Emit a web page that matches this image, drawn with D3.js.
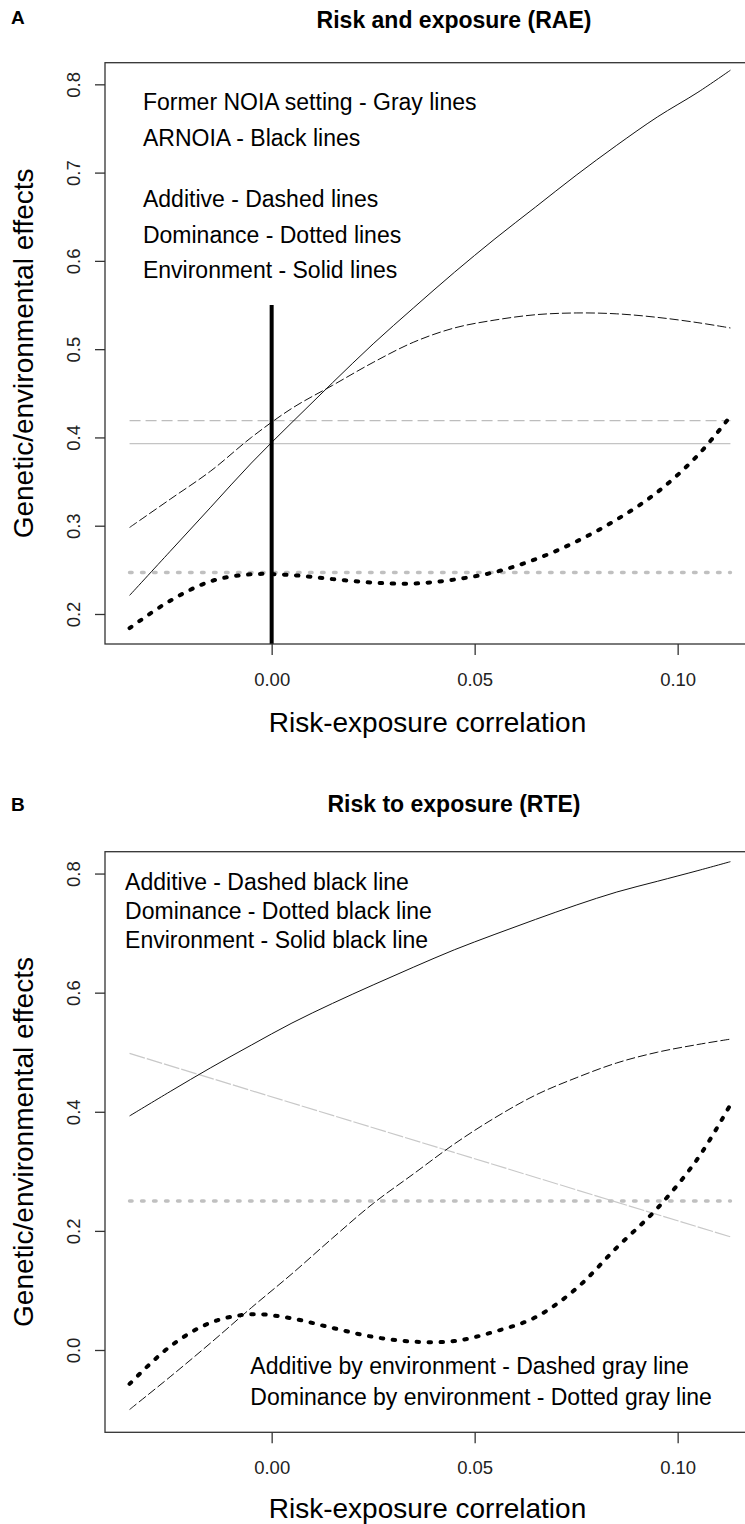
<!DOCTYPE html>
<html>
<head>
<meta charset="utf-8">
<script src="https://cdn.jsdelivr.net/npm/d3@7"></script>
<style>
  body { margin: 0; background: #fff; }
  svg { display: block; font-family: "Liberation Sans", Arial, sans-serif; }
</style>
</head>
<body>
<div id="chart"></div>
<script>
// risk-exposure correlation grid
var xGrid = [-0.035, -0.025, -0.015, -0.005, 0.005, 0.015, 0.025, 0.035, 0.045, 0.055, 0.065, 0.075, 0.085, 0.095, 0.105, 0.113];
var xEnds = [-0.035, 0.113];

// panel A : risk and exposure (RAE), ARNOIA
var raeEnvironment = [0.221, 0.271, 0.321, 0.371, 0.417, 0.462, 0.506, 0.547, 0.587, 0.625, 0.661, 0.697, 0.731, 0.763, 0.791, 0.816];
var raeAdditive    = [0.298, 0.330, 0.362, 0.400, 0.433, 0.459, 0.485, 0.508, 0.524, 0.533, 0.539, 0.541, 0.540, 0.536, 0.530, 0.524];
var raeDominance   = [0.184, 0.215, 0.237, 0.245, 0.244, 0.2395, 0.2355, 0.2345, 0.239, 0.2475, 0.262, 0.282, 0.307, 0.338, 0.380, 0.424];
// former NOIA setting (constant)
var raeNoiaAdditive    = [0.419, 0.419];
var raeNoiaEnvironment = [0.393, 0.393];
var raeNoiaDominance   = [0.247, 0.247];
var raeMarkerTop = 0.55;

// panel B : risk to exposure (RTE)
var rteEnvironment = [0.393, 0.434, 0.474, 0.512, 0.549, 0.582, 0.613, 0.643, 0.672, 0.698, 0.723, 0.747, 0.769, 0.787, 0.805, 0.820];
var rteAdditive    = [-0.100, -0.045, 0.012, 0.071, 0.128, 0.188, 0.246, 0.296, 0.346, 0.390, 0.428, 0.457, 0.482, 0.500, 0.513, 0.522];
var rteDominance   = [-0.057, 0.006, 0.046, 0.060, 0.053, 0.037, 0.022, 0.014, 0.015, 0.031, 0.055, 0.103, 0.172, 0.238, 0.322, 0.412];
var rteAddByEnv    = [0.498, 0.190];
var rteDomByEnv    = [0.25, 0.25];

var xTicks = [0, 0.05, 0.10];
var raeYTicks = [0.2, 0.3, 0.4, 0.5, 0.6, 0.7, 0.8];
var rteYTicks = [0.0, 0.2, 0.4, 0.6, 0.8];

var raeLegend = ["Former NOIA setting - Gray lines", "ARNOIA - Black lines", "Additive - Dashed lines", "Dominance - Dotted lines", "Environment - Solid lines"];
var raeLegendY = [0.78, 0.74, 0.67, 0.63, 0.59];
var rteLegendTop = ["Additive - Dashed black line", "Dominance - Dotted black line", "Environment - Solid black line"];
var rteLegendTopY = [0.786, 0.737, 0.689];
var rteLegendBottom = ["Additive by environment - Dashed gray line", "Dominance by environment - Dotted gray line"];
var rteLegendBottomY = [-0.0264, -0.0784];

var width = 745, height = 1524;
var plotLeft = 105, plotRight = 750;

var svg = d3.select("#chart").append("svg")
  .attr("width", width)
  .attr("height", height);

svg.append("rect")
  .attr("width", width)
  .attr("height", height)
  .attr("fill", "#fff");

var x = d3.scaleLinear()
  .domain([-0.04105, 0.11782])
  .range([plotLeft, plotRight]);

function zip(ys) {
  return ys.map(function(v, i) { return [xGrid[i], v]; });
}
function ends(ys) {
  return ys.map(function(v, i) { return [xEnds[i], v]; });
}

function drawPanel(opt) {
  var y = d3.scaleLinear()
    .domain(opt.yDomain)
    .range([opt.bottom, opt.top]);

  var g = svg.append("g");

  var line = d3.line()
    .x(function(d) { return x(d[0]); })
    .y(function(d) { return y(d[1]); })
    .curve(d3.curveCatmullRom);

  opt.series.forEach(function(s) {
    g.append("path")
      .datum(s.data)
      .attr("d", line)
      .attr("fill", "none")
      .attr("stroke", s.color)
      .attr("stroke-width", s.width)
      .attr("stroke-dasharray", s.dash || null)
      .attr("stroke-linecap", s.cap || "butt");
  });

  if (opt.marker) {
    g.append("line")
      .attr("x1", x(0)).attr("x2", x(0))
      .attr("y1", y(opt.yDomain[0]))
      .attr("y2", y(opt.marker))
      .attr("stroke", "#000")
      .attr("stroke-width", 4);
  }

  // box
  g.append("rect")
    .attr("x", plotLeft)
    .attr("y", opt.top)
    .attr("width", plotRight - plotLeft)
    .attr("height", opt.bottom - opt.top)
    .attr("fill", "none")
    .attr("stroke", "#333")
    .attr("stroke-width", 1.3);

  var xAxis = g.append("g")
    .attr("transform", "translate(0," + opt.bottom + ")")
    .call(d3.axisBottom(x).tickValues(xTicks).tickSize(11).tickFormat(d3.format(".2f")));
  xAxis.select(".domain").remove();
  xAxis.selectAll("line").attr("stroke", "#333").attr("stroke-width", 1.3);
  xAxis.selectAll("text")
    .attr("y", 41.7)
    .attr("dy", 0)
    .attr("fill", "#222")
    .style("font-size", "18.5px")
    .style("font-family", "Liberation Sans, Arial, sans-serif");

  var yAxis = g.append("g")
    .attr("transform", "translate(" + plotLeft + ",0)")
    .call(d3.axisLeft(y).tickValues(opt.yTicks).tickSize(10).tickFormat(d3.format(".1f")));
  yAxis.select(".domain").remove();
  yAxis.selectAll("line").attr("stroke", "#333").attr("stroke-width", 1.3);
  yAxis.selectAll("text")
    .attr("x", 0)
    .attr("dy", 0)
    .attr("transform", "translate(-25,0) rotate(-90)")
    .attr("text-anchor", "middle")
    .attr("fill", "#222")
    .style("font-size", "18.5px")
    .style("font-family", "Liberation Sans, Arial, sans-serif");

  g.append("text")
    .attr("x", (plotLeft + plotRight) / 2)
    .attr("y", opt.xTitleY)
    .attr("text-anchor", "middle")
    .style("font-size", "28px")
    .text("Risk-exposure correlation");

  g.append("text")
    .attr("transform", "translate(33," + (opt.top + opt.bottom) / 2 + ") rotate(-90)")
    .attr("text-anchor", "middle")
    .style("font-size", "28px")
    .text("Genetic/environmental effects");

  g.append("text")
    .attr("x", 454)
    .attr("y", opt.titleY)
    .attr("text-anchor", "middle")
    .style("font-size", "23px")
    .style("font-weight", "bold")
    .text(opt.title);

  g.append("text")
    .attr("x", 11)
    .attr("y", opt.letterY)
    .style("font-size", "19px")
    .style("font-weight", "bold")
    .text(opt.letter);

  opt.legends.forEach(function(l) {
    g.selectAll(null)
      .data(l.labels)
      .enter().append("text")
      .attr("x", x(l.x))
      .attr("y", function(d, i) { return y(l.ys[i]); })
      .attr("dy", "0.36em")
      .attr("fill", "#000")
      .style("font-size", "23px")
      .text(function(d) { return d; });
  });
}

var black = "#111", gray = "#bdbdbd";

drawPanel({
  top: 62.7, bottom: 644,
  yDomain: [0.166, 0.8245],
  yTicks: raeYTicks,
  title: "Risk and exposure (RAE)", titleY: 28,
  letter: "A", letterY: 24,
  xTitleY: 731.7,
  marker: raeMarkerTop,
  series: [
    {data: ends(raeNoiaAdditive), color: gray, width: 1.2, dash: "11,5"},
    {data: ends(raeNoiaEnvironment), color: "#c4c4c4", width: 1.3},
    {data: ends(raeNoiaDominance), color: "#c0c0c0", width: 3.5, dash: "2.5,9.5", cap: "round"},
    {data: zip(raeEnvironment), color: black, width: 1},
    {data: zip(raeAdditive), color: black, width: 1, dash: "9,3"},
    {data: zip(raeDominance), color: "#000", width: 4, dash: "2.5,9.5", cap: "round"}
  ],
  legends: [
    {labels: raeLegend, ys: raeLegendY, x: -0.0317}
  ]
});

drawPanel({
  top: 851.7, bottom: 1432.3,
  yDomain: [-0.1382, 0.8367],
  yTicks: rteYTicks,
  title: "Risk to exposure (RTE)", titleY: 812,
  letter: "B", letterY: 811,
  xTitleY: 1517.5,
  series: [
    {data: ends(rteDomByEnv), color: "#c0c0c0", width: 3.5, dash: "2.5,9.5", cap: "round"},
    {data: ends(rteAddByEnv), color: "#c8c8c8", width: 1.2, dash: "16,2"},
    {data: zip(rteEnvironment), color: black, width: 1},
    {data: zip(rteAdditive), color: black, width: 1, dash: "9,3"},
    {data: zip(rteDominance), color: "#000", width: 4, dash: "2.5,9.5", cap: "round"}
  ],
  legends: [
    {labels: rteLegendTop, ys: rteLegendTopY, x: -0.0361},
    {labels: rteLegendBottom, ys: rteLegendBottomY, x: -0.00525}
  ]
});
</script>
</body>
</html>
